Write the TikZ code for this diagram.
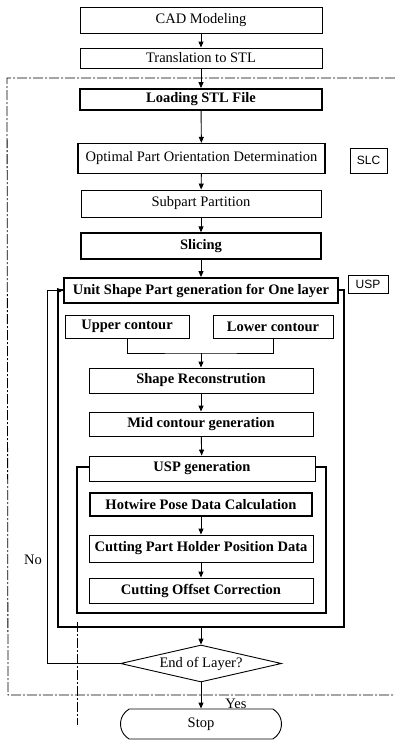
\documentclass[tikz,border=0pt]{standalone}
\usepackage{fontspec}
\setmainfont{Liberation Serif}
\newfontfamily\labfont{Liberation Sans}
\usetikzlibrary{shapes.geometric,shapes.misc,arrows.meta}
\begin{document}
\begin{tikzpicture}[x=1pt,y=-1pt,
  box/.style={draw,line width=0.9pt,inner sep=0pt,font=\fontsize{14.5}{16}\selectfont},
  bbox/.style={box,font=\fontsize{14.5}{16}\selectfont\bfseries},
  thickbox/.style={bbox,line width=1.8pt},
  frame/.style={draw,line width=1.2pt,inner sep=0pt},
  tag/.style={draw,line width=0.9pt,inner sep=0pt,font=\labfont\fontsize{12}{14}\selectfont},
  arr/.style={line width=0.9pt,-{Triangle[length=6pt,width=5pt]}},
  ln/.style={line width=0.9pt},
  outline/.style={line width=0.8pt,dash pattern=on 10pt off 2pt on 2pt off 2pt}]
\useasboundingbox (0,0) rectangle (395,740);
\fill[white] (0,0) rectangle (395,740);
% outer dashed frame
\coordinate (o1) at (7,78);
\coordinate (o2) at (395,78);
\coordinate (o3) at (8,695);
\coordinate (o4) at (395,695);
\draw[outline] (o2) -- (o1) -- (o3) -- (o4);
\coordinate (v1) at (77,622);
\coordinate (v2) at (77,725);
\draw[outline] (v1) -- (v2);
% top boxes
\node[box,minimum width=242,minimum height=26] (cad) at (201,20) {CAD Modeling};
\node[box,minimum width=242,minimum height=20] (stl) at (201,58) {Translation to STL};
\node[thickbox,minimum width=242,minimum height=21] (load) at (201,99.5) {Loading STL File};
\node[box,line width=1.2pt,minimum width=247,minimum height=30] (opt) at (201.5,158.5) {Optimal Part Orientation Determination};
\node[tag,minimum width=37,minimum height=25] (slc) at (368.5,160.5) {SLC};
\node[box,minimum width=240,minimum height=27] (sub) at (201,203.5) {Subpart Partition};
\node[thickbox,line width=1.4pt,minimum width=240,minimum height=26] (slice) at (201,246) {Slicing};
% USP frame
\node[frame,minimum width=286,minimum height=337] (uspframe) at (201,458.5) {};
\node[thickbox,fill=white,minimum width=274,minimum height=25] (usp) at (201,290.5) {Unit Shape Part generation for One layer};
\node[tag,minimum width=40,minimum height=18] (usplab) at (368,284) {USP};
\node[bbox,minimum width=124,minimum height=23] (up) at (127,326.5) {Upper contour};
\node[bbox,minimum width=120,minimum height=23] (low) at (273,326.5) {Lower contour};
\coordinate (m) at (201,353);
\node[bbox,minimum width=224,minimum height=25] (shape) at (201,380.5) {Shape Reconstrution};
\node[bbox,minimum width=224,minimum height=24] (mid) at (201,424) {Mid contour generation};
% inner frame
\node[frame,minimum width=249,minimum height=146] (genframe) at (201.5,540) {};
\node[bbox,fill=white,minimum width=226,minimum height=25] (gen) at (202,468.5) {USP generation};
\node[bbox,line width=2.6pt,minimum width=222,minimum height=23] (hot) at (201,504.5) {Hotwire Pose Data Calculation};
\node[bbox,minimum width=224,minimum height=27] (hold) at (201,548.5) {Cutting Part Holder Position Data};
\node[bbox,minimum width=224,minimum height=25] (off) at (201,590.5) {Cutting Offset Correction};
% decision and stop
\node[diamond,draw,ln,aspect=4.35,minimum width=161,minimum height=37,inner sep=0pt,font=\fontsize{14.5}{16}\selectfont] (dec) at (201,663.5) {End of Layer?};
\node[rounded rectangle,rounded rectangle arc length=120,draw,ln,minimum width=161,minimum height=30,inner sep=0pt,font=\fontsize{14.5}{16}\selectfont] (stop) at (201,724) {Stop};
% arrows
\draw[arr] (cad) -- (stl);
\draw[arr] (stl) -- (load);
\draw[arr] (load) -- (opt);
\draw[arr] (opt) -- (sub);
\draw[arr] (sub) -- (slice);
\draw[arr] (slice) -- (usp);
\draw[ln] (up.south) |- (m) -| (low.south);
\draw[arr] (m) -- (shape);
\draw[arr] (shape) -- (mid);
\draw[arr] (mid) -- (gen);
\draw[arr] (hot) -- (hold);
\draw[arr] (hold) -- (off);
\draw[arr] (uspframe.south) -- (dec.north);
\draw[arr] (dec.south) -- (stop.north);
\coordinate (nl) at (47,663.5);
\coordinate (nu) at (47,290.5);
\draw[arr] (dec.west) -- (nl) -- (nu) -- (usp.west);
\node[font=\fontsize{14.5}{16}\selectfont] (no) at (33,560) {No};
\node[font=\fontsize{14.5}{16}\selectfont] (yes) at (236,704) {Yes};
\end{tikzpicture}
\end{document}
